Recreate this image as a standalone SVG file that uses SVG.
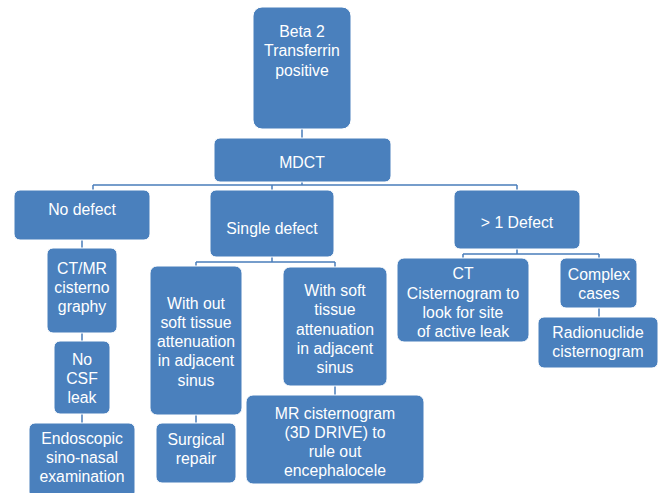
<svg xmlns="http://www.w3.org/2000/svg" width="659" height="493" viewBox="0 0 659 493">
<style>
.b{fill:#4a80bd;stroke:#ffffff;stroke-width:1}
.t{fill:#ffffff;font-family:"Liberation Sans",Arial,sans-serif;font-size:15.8px;text-anchor:middle}
.c{stroke:#4a7ebb;stroke-width:1.5;fill:none}
</style>
<rect width="659" height="493" fill="#ffffff"/>
<g id="connectors">
<path class="c" d="M302 129V138M302 182V185M93 185H517M93 185V190M272 185V190M517 185V190"/>
<path class="c" d="M82 240V248M82 333V341M82 414V423"/>
<path class="c" d="M272 257V262M196 262H335M196 262V266M335 262V267M196 415V423M335 386V395"/>
<path class="c" d="M517 249V254M463 254H599M463 254V258M599 254V258M599 308V317"/>
</g>
<g id="beta2"><rect class="b" x="253" y="7" width="98" height="122" rx="9"/>
<text class="t" x="302" y="37">Beta 2</text><text class="t" x="302" y="56">Transferrin</text><text class="t" x="302" y="76">positive</text></g>
<g id="mdct"><rect class="b" x="214" y="138" width="177" height="44" rx="6"/><text class="t" x="302" y="168">MDCT</text></g>
<g id="nodefect"><rect class="b" x="14" y="190" width="136" height="50" rx="6"/><text class="t" x="82" y="215">No defect</text></g>
<g id="single"><rect class="b" x="210" y="190" width="124" height="67" rx="6"/><text class="t" x="272" y="234">Single defect</text></g>
<g id="multi"><rect class="b" x="454" y="190" width="126" height="59" rx="6"/><text class="t" x="517" y="228">&gt; 1 Defect</text></g>
<g id="ctmr"><rect class="b" x="47" y="248" width="70" height="85" rx="6"/>
<text class="t" x="82" y="274">CT/MR</text><text class="t" x="82" y="293">cisterno</text><text class="t" x="82" y="312">graphy</text></g>
<g id="nocsf"><rect class="b" x="54" y="341" width="56" height="73" rx="6"/>
<text class="t" x="82" y="365">No</text><text class="t" x="82" y="384">CSF</text><text class="t" x="82" y="403">leak</text></g>
<g id="endo"><rect class="b" x="29" y="423" width="106" height="75" rx="6"/>
<text class="t" x="82" y="444">Endoscopic</text><text class="t" x="82" y="463">sino-nasal</text><text class="t" x="82" y="482">examination</text></g>
<g id="without"><rect class="b" x="150" y="266" width="92" height="149" rx="7"/>
<text class="t" x="196" y="309">With out</text><text class="t" x="196" y="328">soft tissue</text><text class="t" x="196" y="347">attenuation</text><text class="t" x="196" y="366">in adjacent</text><text class="t" x="196" y="386">sinus</text></g>
<g id="surgical"><rect class="b" x="156" y="423" width="80" height="60" rx="6"/>
<text class="t" x="196" y="445">Surgical</text><text class="t" x="196" y="464">repair</text></g>
<g id="withsoft"><rect class="b" x="283" y="267" width="104" height="119" rx="7"/>
<text class="t" x="335" y="296">With soft</text><text class="t" x="335" y="315">tissue</text><text class="t" x="335" y="335">attenuation</text><text class="t" x="335" y="354">in adjacent</text><text class="t" x="335" y="373">sinus</text></g>
<g id="mr"><rect class="b" x="246" y="395" width="178" height="89" rx="7"/>
<text class="t" x="335" y="419">MR cisternogram</text><text class="t" x="335" y="438">(3D DRIVE) to</text><text class="t" x="335" y="457">rule out</text><text class="t" x="335" y="476">encephalocele</text></g>
<g id="ctcis"><rect class="b" x="397" y="258" width="132" height="84" rx="7"/>
<text class="t" x="463" y="279">CT</text><text class="t" x="463" y="299">Cisternogram to</text><text class="t" x="463" y="318">look for site</text><text class="t" x="463" y="337">of active leak</text></g>
<g id="complex"><rect class="b" x="560" y="258" width="77" height="50" rx="6"/>
<text class="t" x="599" y="280">Complex</text><text class="t" x="599" y="299">cases</text></g>
<g id="radio"><rect class="b" x="538" y="317" width="120" height="51" rx="6"/>
<text class="t" x="598" y="338">Radionuclide</text><text class="t" x="598" y="357">cisternogram</text></g>
</svg>
